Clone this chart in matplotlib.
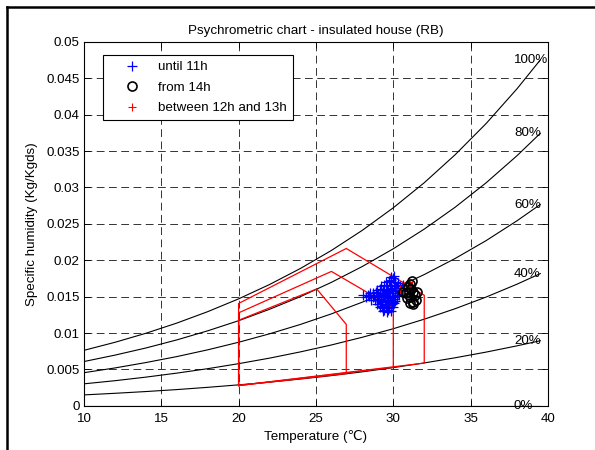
import matplotlib
matplotlib.use("Agg")
import matplotlib.pyplot as plt
from matplotlib.lines import Line2D

plt.rcParams['font.family'] = ['Liberation Sans', 'DejaVu Sans']
FS = 9.6

# ---------------- data ----------------
temps = [10, 12, 14, 16, 18, 20, 22, 24, 26, 28, 30, 32, 34, 36, 38, 39.5]
rh_labels = ['100%', '80%', '60%', '40%', '20%', '0%']
w100 = [0.00763, 0.00873, 0.00997, 0.01137, 0.01294, 0.01470, 0.01667, 0.01888,
        0.02135, 0.02412, 0.02721, 0.03065, 0.03450, 0.03878, 0.04356, 0.04751]
w80 = [0.00609, 0.00697, 0.00795, 0.00906, 0.01031, 0.01170, 0.01327, 0.01501,
       0.01697, 0.01915, 0.02158, 0.02428, 0.02729, 0.03064, 0.03437, 0.03743]
w60 = [0.00456, 0.00521, 0.00595, 0.00677, 0.00770, 0.00874, 0.00990, 0.01119,
       0.01264, 0.01425, 0.01604, 0.01804, 0.02025, 0.02270, 0.02543, 0.02766]
w40 = [0.00303, 0.00346, 0.00395, 0.00450, 0.00511, 0.00580, 0.00656, 0.00742,
       0.00837, 0.00943, 0.01060, 0.01191, 0.01335, 0.01495, 0.01672, 0.01817]
w20 = [0.00151, 0.00173, 0.00197, 0.00224, 0.00255, 0.00289, 0.00326, 0.00369,
       0.00416, 0.00468, 0.00526, 0.00590, 0.00661, 0.00739, 0.00825, 0.00895]
w0 = [0.0] * 16
rh_curves = [w100, w80, w60, w40, w20, w0]

# comfort zones (red polygons)
zone_large_t = [20, 20, 26.96, 32.0, 32.0, 20]
zone_large_w = [0.00280, 0.01407, 0.02162, 0.01520, 0.00588, 0.00280]
zone_mid_t = [20, 20, 26.0, 30.0, 30.0, 20]
zone_mid_w = [0.00280, 0.01278, 0.01847, 0.01350, 0.00530, 0.00280]
zone_small_t = [20, 20, 25.05, 26.96, 26.96, 20]
zone_small_w = [0.00280, 0.01176, 0.01606, 0.01120, 0.00444, 0.00280]

# measurements
until11_t = [29.85, 29.95, 30.02, 29.55, 29.72, 29.88, 30.12, 30.28, 29.22, 29.43,
             29.61, 29.79, 30.03, 30.21, 30.42, 30.62, 28.92, 29.12, 29.31, 29.52,
             29.68, 29.93, 30.08, 30.33, 30.51, 28.52, 28.71, 28.88, 29.14, 29.28,
             29.49, 29.73, 29.91, 30.14, 30.31, 28.05, 28.22, 28.43, 28.68, 28.93,
             29.08, 29.34, 29.58, 29.81, 29.98, 30.22, 28.58, 28.81, 29.02, 29.21,
             29.47, 29.69, 29.88, 30.11, 28.92, 29.13, 29.29, 29.52, 29.71, 29.92,
             30.03, 29.12, 29.33, 29.51, 29.74, 29.95, 29.32, 29.61, 29.88, 29.41,
             29.66, 30.18, 30.45, 29.05, 29.83, 30.38, 30.55, 28.35, 29.25, 29.98,
             29.40, 29.62, 29.85, 30.05, 29.18, 29.58, 29.78, 30.25, 28.75, 29.00]
until11_w = [0.01775, 0.01760, 0.01782, 0.01702, 0.01715, 0.01698, 0.01705, 0.01690,
             0.01648, 0.01655, 0.01642, 0.01660, 0.01645, 0.01652, 0.01640, 0.01655,
             0.01598, 0.01605, 0.01592, 0.01608, 0.01595, 0.01603, 0.01590, 0.01606,
             0.01598, 0.01552, 0.01545, 0.01558, 0.01548, 0.01555, 0.01542, 0.01557,
             0.01550, 0.01546, 0.01553, 0.01520, 0.01502, 0.01508, 0.01495, 0.01505,
             0.01498, 0.01502, 0.01496, 0.01507, 0.01499, 0.01505, 0.01455, 0.01448,
             0.01452, 0.01445, 0.01455, 0.01447, 0.01451, 0.01446, 0.01402, 0.01398,
             0.01405, 0.01396, 0.01403, 0.01399, 0.01407, 0.01352, 0.01348, 0.01355,
             0.01346, 0.01352, 0.01302, 0.01295, 0.01305, 0.01322, 0.01318, 0.01625,
             0.01578, 0.01475, 0.01728, 0.01528, 0.01612, 0.01528, 0.01372, 0.01432,
             0.01525, 0.01575, 0.01620, 0.01475, 0.01425, 0.01380, 0.01480, 0.01575,
             0.01510, 0.01530]
from14_t = [31.20, 31.05, 30.95, 31.15, 30.65, 30.80, 31.00, 31.30, 31.55, 31.40,
            31.45, 31.25, 31.10, 31.30, 30.90, 31.05]
from14_w = [0.01720, 0.01680, 0.01630, 0.01600, 0.01570, 0.01550, 0.01560, 0.01560,
            0.01570, 0.01520, 0.01460, 0.01430, 0.01410, 0.01400, 0.01480, 0.01500]
noon_t = [30.97, 31.20, 30.65, 30.45, 31.10, 31.30]
noon_w = [0.01700, 0.01660, 0.01550, 0.01610, 0.01520, 0.01470]

x_ticks = [10, 15, 20, 25, 30, 35, 40]
y_ticks = [0, 0.005, 0.01, 0.015, 0.02, 0.025, 0.03, 0.035, 0.04, 0.045, 0.05]
y_ticklabels = ['0', '0.005', '0.01', '0.015', '0.02', '0.025', '0.03', '0.035',
                '0.04', '0.045', '0.05']

# ---------------- figure ----------------
fig = plt.figure(figsize=(5.95, 4.5), dpi=100)
ax = fig.add_axes([0.141, 0.098, 0.780, 0.809])

for w, lab in zip(rh_curves, rh_labels):
    ax.plot(temps, w, color='black', lw=0.8)
    ax.text(37.8, w[-1], lab, ha='left', va='center', fontsize=FS)

for zt, zw in [(zone_large_t, zone_large_w), (zone_mid_t, zone_mid_w),
               (zone_small_t, zone_small_w)]:
    ax.plot(zt, zw, color='red', lw=0.9)

h1, = ax.plot(until11_t, until11_w, '+', color='blue', ms=7, mew=0.9,
              linestyle='none', label='until 11h')
h3, = ax.plot(noon_t, noon_w, '+', color='red', ms=6, mew=0.8,
              linestyle='none', label='between 12h and 13h')
h2, = ax.plot(from14_t, from14_w, 'o', mfc='none', mec='black', ms=6.5, mew=1.2,
              linestyle='none', label='from 14h')

ax.set_xlim(10, 40)
ax.set_ylim(0, 0.05)
ax.set_xticks(x_ticks)
ax.set_yticks(y_ticks)
ax.set_yticklabels(y_ticklabels)
ax.tick_params(direction='in', top=True, right=True, length=4, width=0.6,
               labelsize=FS)
ax.tick_params(axis='x', pad=5)
ax.tick_params(axis='y', pad=3)
for s in ax.spines.values():
    s.set_linewidth(0.8)
ax.grid(True, color='#333333', linestyle=(0, (8, 4.6)), linewidth=0.7)
ax.set_axisbelow(True)

ax.set_title('Psychrometric chart - insulated house (RB)', fontsize=FS, pad=6)
ax.set_xlabel('Temperature (\u2103)', fontsize=FS, labelpad=4)
ax.set_ylabel('Specific humidity (Kg/Kgds)', fontsize=FS, labelpad=6)

leg = ax.legend(handles=[h1, h2, h3], loc='upper left',
                bbox_to_anchor=(0.041, 0.964), borderaxespad=0,
                fontsize=FS, frameon=True, fancybox=False, edgecolor='black',
                framealpha=1, borderpad=0.45, handlelength=3.4,
                handletextpad=0.3, labelspacing=0.62)
leg.get_frame().set_linewidth(0.8)

# figure frame (top and left edges)
fig.add_artist(Line2D([0.011, 0.011], [0, 0.985], transform=fig.transFigure,
                      color='black', lw=1.8))
fig.add_artist(Line2D([0.011, 1.0], [0.985, 0.985], transform=fig.transFigure,
                      color='black', lw=1.8))

fig.savefig('out.png', dpi=100)
